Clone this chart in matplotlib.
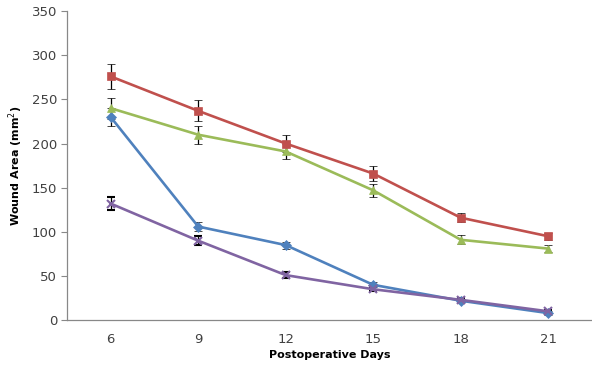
import matplotlib
matplotlib.use("Agg")
import matplotlib.pyplot as plt

days = [6, 9, 12, 15, 18, 21]

red_vals = [276, 237, 200, 166, 116, 95]
red_err = [14, 12, 10, 9, 5, 4]
green_vals = [240, 210, 191, 147, 91, 81]
green_err = [12, 10, 8, 7, 5, 4]
blue_vals = [230, 106, 85, 40, 22, 8]
blue_err = [10, 5, 4, 3, 2, 2]
purple_vals = [132, 90, 51, 35, 23, 10]
purple_err = [7, 5, 3, 2, 2, 2]

y_ticks = [0, 50, 100, 150, 200, 250, 300, 350]

series = [
    (blue_vals, blue_err, "#4F81BD", "D", 5),
    (purple_vals, purple_err, "#8064A2", "x", 6),
    (green_vals, green_err, "#9BBB59", "^", 6),
    (red_vals, red_err, "#C0504D", "s", 6),
]

fig = plt.figure(figsize=(5.92, 3.68), dpi=100)
ax = fig.add_axes([0.113, 0.13, 0.887, 0.84])

pos = list(range(len(days)))
for vals, err, color, marker, ms in series:
    ax.errorbar(pos, vals, yerr=err, color=color, lw=1.9, marker=marker,
                markersize=ms, markeredgewidth=1.5 if marker == "x" else 0.5,
                ecolor="black", elinewidth=0.9, capsize=3, capthick=0.9,
                zorder=3)

ax.set_xlim(-0.5, len(days) - 0.5)
ax.set_ylim(0, 350)
ax.set_xticks(pos)
ax.set_xticklabels([str(d) for d in days])
ax.set_yticks(y_ticks)

for side in ("top", "right"):
    ax.spines[side].set_visible(False)
for side in ("left", "bottom"):
    ax.spines[side].set_color("#888888")
    ax.spines[side].set_linewidth(0.9)

ax.tick_params(axis="y", direction="out", length=4, color="#888888",
               labelsize=9.5, labelcolor="#404040", pad=3)
ax.tick_params(axis="x", length=0, labelsize=9.5, labelcolor="#404040", pad=9)

ax.set_xlabel("Postoperative Days", fontsize=8, fontweight="bold", labelpad=3)
ax.set_ylabel("Wound Area (mm$^2$)", fontsize=8, fontweight="bold", labelpad=5)

fig.savefig("out.png", dpi=100)
